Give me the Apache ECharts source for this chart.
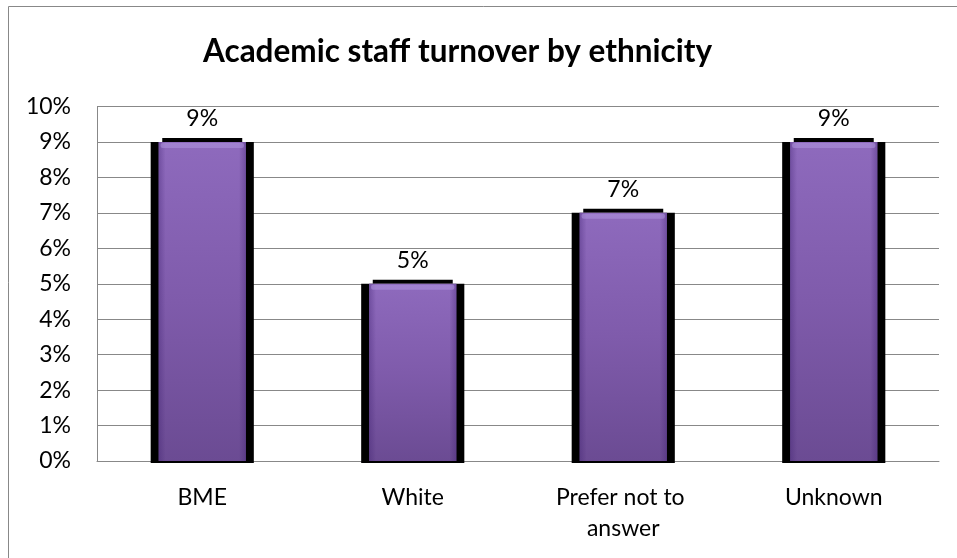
<!DOCTYPE html>
<html>
<head>
<meta charset="utf-8">
<script src="https://cdn.jsdelivr.net/npm/echarts@6/dist/echarts.min.js"></script>
<style>
  html, body { margin: 0; padding: 0; background: #fff; }
  #chart { width: 957px; height: 558px; }
</style>
</head>
<body>
<div id="chart"></div>
<script>
// Turnover rate per ethnic group (fraction of academic staff)
const categories = ['BME', 'White', 'Prefer not to answer', 'Unknown'];
const turnover = [0.09, 0.05, 0.07, 0.09];
const yTicks = { min: 0, max: 0.10, step: 0.01 };

const pct = v => Math.round(v * 100) + '%';
const FONT = 'Lato, "Open Sans", sans-serif';
const GRID_GREY = '#888888';

const barFill = new echarts.graphic.LinearGradient(0, 0, 0, 1, [
  { offset: 0, color: '#8e6abd' },
  { offset: 0.5, color: '#7f5bab' },
  { offset: 1, color: '#6b4b93' }
]);
const edgeShade = new echarts.graphic.LinearGradient(0, 0, 1, 0, [
  { offset: 0, color: 'rgba(60,30,110,0.35)' },
  { offset: 0.08, color: 'rgba(60,30,110,0)' },
  { offset: 0.92, color: 'rgba(60,30,110,0)' },
  { offset: 1, color: 'rgba(60,30,110,0.35)' }
]);

// Bar with a dark drop-shadow frame and a glossy top edge, placed via the axis scales
function renderBar(params, api) {
  const idx = api.value(0);
  const val = api.value(1);
  const top = api.coord([idx, val]);
  const base = api.coord([idx, 0]);
  const band = api.size([1, 0])[0];
  const outer = band * 0.49;
  const inner = band * 0.415;
  const strip = band * 0.38;
  const cx = top[0];
  const h = base[1] - top[1];
  return {
    type: 'group',
    children: [
      { type: 'rect', shape: { x: cx - outer / 2, y: top[1], width: outer, height: h + 2 },
        style: { fill: '#000' } },
      { type: 'rect', shape: { x: cx - strip / 2, y: top[1] - 4, width: strip, height: 4 },
        style: { fill: '#000' } },
      { type: 'rect', shape: { x: cx - inner / 2, y: top[1], width: inner, height: h },
        style: { fill: barFill } },
      { type: 'rect', shape: { x: cx - inner / 2, y: top[1], width: inner, height: h },
        style: { fill: edgeShade } },
      { type: 'rect', shape: { x: cx - inner / 2 + 2, y: top[1] + 1, width: inner - 4, height: 5, r: 2 },
        style: { fill: 'rgba(185,160,230,0.45)' } },
      { type: 'text', x: cx, y: top[1] - 12,
        style: { text: pct(val), fill: '#000', font: '23px ' + FONT,
                 align: 'center', verticalAlign: 'bottom' } }
    ]
  };
}

const chart = echarts.init(document.getElementById('chart'), null, { renderer: 'canvas' });

chart.setOption({
  backgroundColor: '#ffffff',
  animation: false,
  title: {
    text: 'Academic staff turnover by ethnicity',
    left: 198,
    top: 31,
    textStyle: { fontFamily: FONT, fontWeight: 'bold', fontSize: 31.5, color: '#000' }
  },
  graphic: [{
    type: 'rect',
    shape: { x: 8.5, y: 6.5, width: 1000, height: 600 },
    style: { fill: null, stroke: GRID_GREY, lineWidth: 1 },
    silent: true
  }],
  grid: { left: 97, right: 18, top: 106.5, bottom: 97 },
  xAxis: {
    type: 'category',
    data: categories,
    axisLine: { show: true, lineStyle: { color: GRID_GREY, width: 1 } },
    axisTick: { show: false },
    axisLabel: {
      color: '#000', fontFamily: FONT, fontSize: 23, margin: 21,
      lineHeight: 31, width: 170, overflow: 'break', interval: 0
    }
  },
  yAxis: {
    type: 'value',
    min: yTicks.min,
    max: yTicks.max,
    interval: yTicks.step,
    axisLine: { show: true, lineStyle: { color: GRID_GREY, width: 1 } },
    axisTick: { show: false },
    splitLine: { show: true, lineStyle: { color: GRID_GREY, width: 1 } },
    axisLabel: { color: '#000', fontFamily: FONT, fontSize: 23, margin: 26, formatter: pct }
  },
  series: [{
    type: 'custom',
    renderItem: renderBar,
    encode: { x: 0, y: 1 },
    data: turnover.map((v, i) => [i, v]),
    z: 3
  }]
});
</script>
</body>
</html>
